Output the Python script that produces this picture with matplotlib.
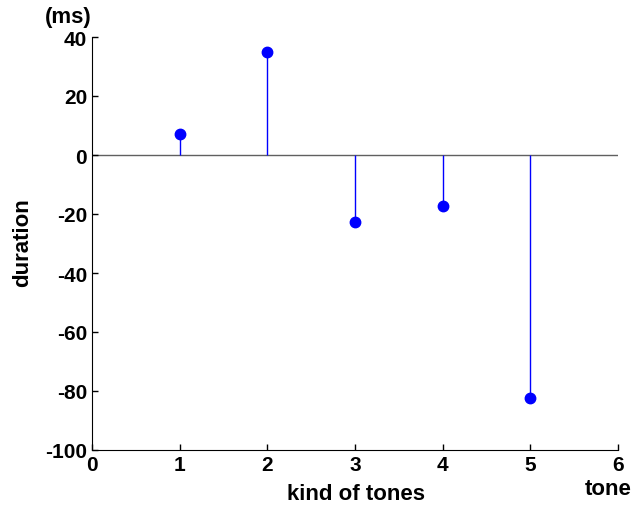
import matplotlib
matplotlib.use('Agg')
import matplotlib.pyplot as plt

# datos del gráfico
tonos = [1, 2, 3, 4, 5]
duracion = [7, 35, -22.8, -17.4, -82.5]
xticks = [0, 1, 2, 3, 4, 5, 6]
yticks = [-100, -80, -60, -40, -20, 0, 20, 40]

plt.rcParams['font.family'] = ['Liberation Sans', 'DejaVu Sans']
plt.rcParams['font.weight'] = 'bold'
plt.rcParams['axes.unicode_minus'] = False

W, H = 633, 506
fig = plt.figure(figsize=(W / 100, H / 100), dpi=100)
ax = fig.add_axes([92 / W, 1 - 451 / H, (618 - 92) / W, (451 - 38) / H])

markerline, stemlines, baseline = ax.stem(tonos, duracion, basefmt=' ')
plt.setp(markerline, color='#0000ff', markersize=7.5, zorder=3)
plt.setp(stemlines, color='#0000ff', linewidth=1)
ax.axhline(0, color='#606060', linewidth=1, zorder=1)

ax.set_xlim(0, 6)
ax.set_ylim(-100, 40)
ax.set_xticks(xticks)
ax.set_yticks(yticks)
ax.tick_params(direction='in', length=4, width=1, labelsize=15, pad=3.5)
for lbl in ax.get_xticklabels() + ax.get_yticklabels():
    lbl.set_fontweight('heavy')

ax.spines['top'].set_visible(False)
ax.spines['right'].set_visible(False)

fig.text(356 / W, 1 - 495 / H, 'kind of tones', fontsize=16, fontweight='bold', ha='center', va='center')
fig.text(23 / W, 1 - 243 / H, 'duration', fontsize=16, fontweight='bold', ha='center', va='center', rotation=90)
fig.text(608 / W, 1 - 490 / H, 'tone', fontsize=16, fontweight='bold', ha='center', va='center')
fig.text(68 / W, 1 - 18 / H, '(ms)', fontsize=16, fontweight='bold', ha='center', va='center')

fig.savefig('out.png', dpi=100)
